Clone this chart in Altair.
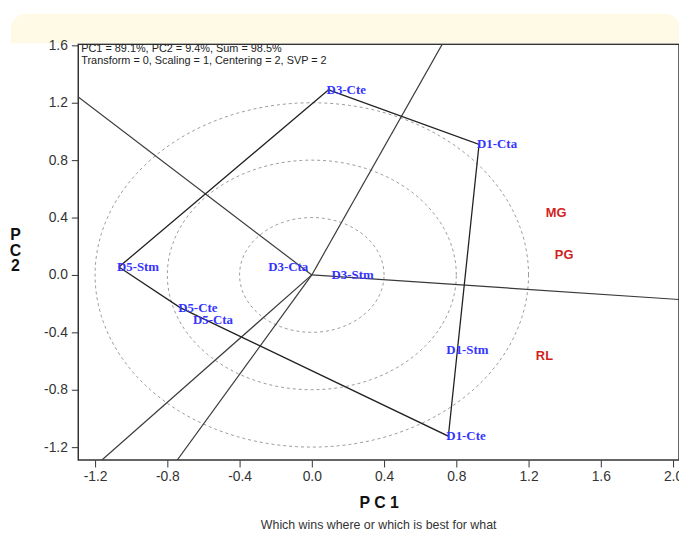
import math
import altair as alt
import pandas as pd

# ---- data ----
geno_names = ["D3-Cte", "D1-Cta", "D1-Cte", "D1-Stm", "D5-Stm", "D5-Cte", "D5-Cta", "D3-Cta", "D3-Stm"]
geno_x = [0.093, 0.926, 0.756, 0.756, -1.068, -0.729, -0.647, -0.230, 0.120]
geno_y = [1.290, 0.910, -1.124, -0.524, 0.055, -0.228, -0.317, 0.055, 0.000]

# polygon (convex hull) vertices, in drawing order
hull_names = ["D3-Cte", "D1-Cta", "D1-Cte", "D5-Cte", "D5-Stm", "D3-Cte"]

env_names = ["MG", "PG", "RL"]
env_x = [1.353, 1.397, 1.288]
env_y = [0.434, 0.138, -0.566]

# rays from the origin, perpendicular to the polygon sides (ending at the frame)
ray_x_end = [-1.293, 0.723, 2.040, -0.745, -1.162]
ray_y_end = [1.240, 1.610, -0.172, -1.290, -1.290]

circle_radii = [0.4, 0.8, 1.2]

x_ticks = [-1.2, -0.8, -0.4, 0.0, 0.4, 0.8, 1.2, 1.6, 2.0]
y_ticks = [-1.2, -0.8, -0.4, 0.0, 0.4, 0.8, 1.2, 1.6]

header_lines = ["PC1 = 89.1%, PC2 = 9.4%, Sum = 98.5%",
                "Transform = 0, Scaling = 1, Centering = 2, SVP = 2"]
subtitle = "Which wins where or which is best for what"

X_DOMAIN = [-1.293, 2.033]
Y_DOMAIN = [-1.29, 1.607]
W, H = 607, 420

# ---- tables ----
geno = pd.DataFrame({"name": geno_names, "x": geno_x, "y": geno_y})
lookup = {n: (a, b) for n, a, b in zip(geno_names, geno_x, geno_y)}
hull = pd.DataFrame({"order": list(range(len(hull_names))),
                     "x": [lookup[n][0] for n in hull_names],
                     "y": [lookup[n][1] for n in hull_names]})
env = pd.DataFrame({"name": env_names, "x": env_x, "y": env_y})
rays = pd.DataFrame({"x": [0.0] * len(ray_x_end), "y": [0.0] * len(ray_y_end),
                     "x2": ray_x_end, "y2": ray_y_end})
circ_rows = []
for r in circle_radii:
    for k in range(181):
        t = 2 * math.pi * k / 180
        circ_rows.append({"r": r, "k": k, "x": r * math.cos(t), "y": r * math.sin(t)})
circles = pd.DataFrame(circ_rows)

xs = alt.Scale(domain=X_DOMAIN, nice=False, zero=False)
ys = alt.Scale(domain=Y_DOMAIN, nice=False, zero=False)

label_expr = "replace(format(datum.value, '.1f'), '\u2212', '-')"

xax = alt.Axis(values=x_ticks, labelExpr=label_expr, title="P C 1", grid=False,
               labelFont="Liberation Sans", labelFontSize=14, labelColor="#333",
               labelPadding=3, tickSize=7, tickColor="#333", domain=False, zindex=1,
               titleFont="Liberation Sans", titleFontSize=16, titleFontWeight="bold",
               titleColor="#111", titlePadding=11)
yax = alt.Axis(values=y_ticks, labelExpr=label_expr, title=["P", "C", "2"], grid=False,
               labelFont="Liberation Sans", labelFontSize=14, labelColor="#333",
               labelPadding=4, tickSize=7, tickColor="#333", domain=False, zindex=1,
               titleFont="Liberation Sans", titleFontSize=16, titleFontWeight="bold",
               titleColor="#111", titleAngle=0, titleX=-64, titleY=184,
               titleAlign="center", titleBaseline="top", titleLineHeight=16)

band = alt.Chart(pd.DataFrame({"a": [0]})).mark_rect(
    color="#fffae6", cornerRadiusTopLeft=22, cornerRadiusTopRight=22, clip=False
).encode(x=alt.value(-68), x2=alt.value(608), y=alt.value(-31), y2=alt.value(-1))

circle_layer = alt.Chart(circles).mark_line(
    color="#9a9a9a", strokeDash=[3, 3], strokeWidth=1, clip=True
).encode(x=alt.X("x:Q", scale=xs, axis=xax), y=alt.Y("y:Q", scale=ys, axis=yax),
         detail="r:N", order="k:Q")

ray_layer = alt.Chart(rays).mark_rule(color="#3a3a3a", strokeWidth=1.2, clip=True).encode(
    x=alt.X("x:Q", scale=xs), y=alt.Y("y:Q", scale=ys), x2="x2:Q", y2="y2:Q")

hull_layer = alt.Chart(hull).mark_line(color="#222", strokeWidth=1.3, clip=True).encode(
    x=alt.X("x:Q", scale=xs), y=alt.Y("y:Q", scale=ys), order="order:Q")

geno_layer = alt.Chart(geno).mark_text(
    align="left", baseline="middle", font="Liberation Serif", fontSize=13,
    fontWeight="bold", color="#3535ff", dx=-2
).encode(x=alt.X("x:Q", scale=xs), y=alt.Y("y:Q", scale=ys), text="name:N")

env_layer = alt.Chart(env).mark_text(
    align="center", baseline="middle", font="Liberation Sans", fontSize=13,
    fontWeight="bold", color="#d11f1f"
).encode(x=alt.X("x:Q", scale=xs), y=alt.Y("y:Q", scale=ys), text="name:N")

header1 = alt.Chart(pd.DataFrame({"t": [header_lines[0]]})).mark_text(
    align="left", baseline="middle", font="Liberation Sans", fontSize=11, color="#222"
).encode(x=alt.value(3), y=alt.value(5), text="t:N")
header2 = alt.Chart(pd.DataFrame({"t": [header_lines[1]]})).mark_text(
    align="left", baseline="middle", font="Liberation Sans", fontSize=11, color="#222"
).encode(x=alt.value(3), y=alt.value(17), text="t:N")

sub_layer = alt.Chart(pd.DataFrame({"t": [subtitle]})).mark_text(
    align="center", baseline="middle", font="Liberation Sans", fontSize=12.5, color="#333",
    clip=False
).encode(x=alt.value(W / 2), y=alt.value(H + 66), text="t:N")

chart = alt.layer(
    band, circle_layer, ray_layer, hull_layer, geno_layer, env_layer, header1, header2, sub_layer
).properties(
    width=W, height=H,
    autosize=alt.AutoSizeParams(type="none"),
    padding={"left": 71, "top": 34, "right": 0, "bottom": 70},
    background="white",
).configure_view(stroke="#333", strokeWidth=1.5, fill="white")

chart.save("out.html", embed_options={"renderer": "svg", "actions": False})
